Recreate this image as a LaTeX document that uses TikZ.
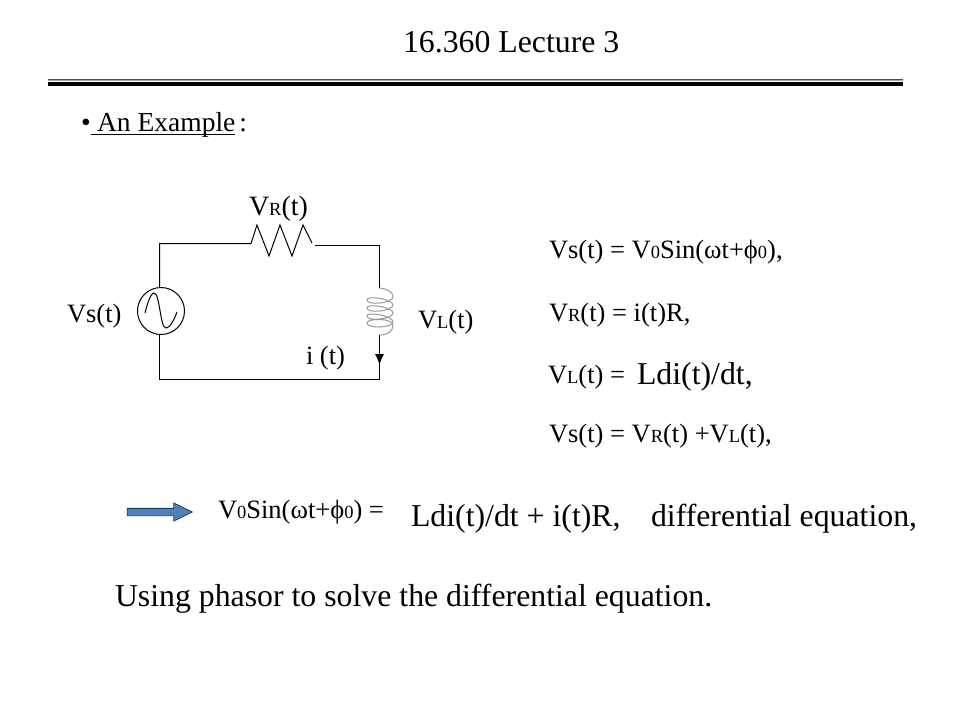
\documentclass[tikz,border=0pt]{standalone}
\usepackage{fontspec}
\setmainfont{Liberation Serif}
\usetikzlibrary{arrows.meta,shapes.arrows,calc}
\newcommand\fsz[1]{\fontsize{#1}{#1}\selectfont}
\newcommand\lo[1]{{\fsz{18.5}#1}}
\definecolor{arrblue}{HTML}{4F81BD}
\definecolor{arrline}{HTML}{1F3A60}
\tikzset{
  txt/.style={inner sep=0pt,outer sep=0pt,anchor=base west,font=\fsz{26.5}},
  big/.style={txt,font=\fsz{31.8}},
  wire/.style={line width=1pt,black},
  coil/.style={line width=1pt,black!40},
}
\begin{document}
\begin{tikzpicture}[x=1pt,y=-1pt]
\useasboundingbox (0,0) rectangle (960,720);
\fill[white] (0,0) rectangle (960,720);
% title and rule
\node[txt,font=\fsz{31.8}] (title) at (403,52) {16.360 Lecture 3};
\coordinate (ruleL) at (48,83.5);
\coordinate (ruleR) at (903,83.5);
\draw[line width=4pt] (ruleL) -- (ruleR);
\draw[line width=1pt,black!35] ($(ruleL)+(0,-3)$) -- ($(ruleR)+(0,-3)$);
\draw[line width=1pt,black!70] ($(ruleL)+(0,-4)$) -- ($(ruleR)+(0,-4)$);
% heading
\node[txt,font=\fsz{27.5}] (head) at (81,131) {\textbullet\hspace{0pt}\rlap{\rule[-4pt]{144pt}{1.1pt}}\hspace{6.5pt}An Example\hspace{4pt}:};
% circuit
\coordinate (tl) at (159.5,243.5);
\coordinate (bl) at (159.5,379.5);
\coordinate (br) at (379.5,379.5);
\coordinate (tr) at (379.5,245.5);
\coordinate (rs) at (251,243.5);
\coordinate (re) at (315,245.5);
\coordinate (ls) at (379.5,288);
\coordinate (le) at (379.5,335);
\node[circle,draw,line width=1pt,minimum size=47pt,inner sep=0pt] (src) at (161,311) {};
\draw[wire] (src.north -| tl) -- (tl) -- (rs)
  -- (257,225) -- (269,256) -- (280,225) -- (292,256) -- (303,225) -- (312,243);
\draw[wire] (re) -- (tr) -- (ls);
\draw[wire] (src.south -| bl) -- (bl) -- (br);
\draw[wire,-{Latex[length=11pt,width=9pt]}] (le) -- (379.5,365);
\draw[wire] (le) -- (br);
\draw[wire] (145,313) .. controls (149,297) and (152,293) .. (154,293)
  .. controls (160,293) and (160,328) .. (166,328)
  .. controls (170,328) and (174,320) .. (177,312);
\draw[coil] (ls) .. controls (388,289) and (393,292) .. (393,297)
  .. controls (393,303) and (367,306) .. (367,300)
  .. controls (367,295) and (393,299) .. (393,305)
  .. controls (393,311) and (367,314) .. (367,308)
  .. controls (367,303) and (393,307) .. (393,313)
  .. controls (393,319) and (367,322) .. (367,316)
  .. controls (367,311) and (393,316) .. (393,322)
  .. controls (393,328) and (367,329) .. (367,323)
  .. controls (367,318) and (393,318) .. (393,325)
  .. controls (393,331) and (388,335) .. (le);
% circuit labels
\node[txt,font=\fsz{28}] (vr) at (249,215) {V\lo{R}(t)};
\node[txt] (vs) at (67,322) {Vs(t)};
\node[txt] (vl) at (418,328) {V\lo{L}(t)};
\node[txt,font=\fsz{26.5}] (it) at (306,364) {i (t)};
% equations
\node[txt] (e1) at (549,258) {Vs(t) = V\lo{0}Sin(ωt+ϕ\lo{0}),};
\node[txt] (e2) at (549,321) {V\lo{R}(t) = i(t)R,};
\node[txt] (e3) at (548,383) {V\lo{L}(t) = };
\node[big] (e3b) at (637,384) {Ldi(t)/dt,};
\node[txt] (e4) at (549,442) {Vs(t) = V\lo{R}(t) +V\lo{L}(t),};
% bottom
\node[single arrow,draw=arrline,fill=arrblue,line width=.8pt,
  minimum height=65pt,minimum width=18pt,single arrow tip angle=52,
  single arrow head extend=5pt,single arrow head indent=0pt,
  inner ysep=3pt,inner xsep=0pt] (arr) at (156,512) {};
\node[txt] (e5) at (218,518) {V\lo{0}Sin(ωt+ϕ\lo{0}) =};
\node[big] (e6) at (411,526) {Ldi(t)/dt + i(t)R,};
\node[big] (e7) at (651,526) {differential equation,};
\node[big] (e8) at (115,606) {Using phasor to solve the differential equation.};
\end{tikzpicture}
\end{document}
